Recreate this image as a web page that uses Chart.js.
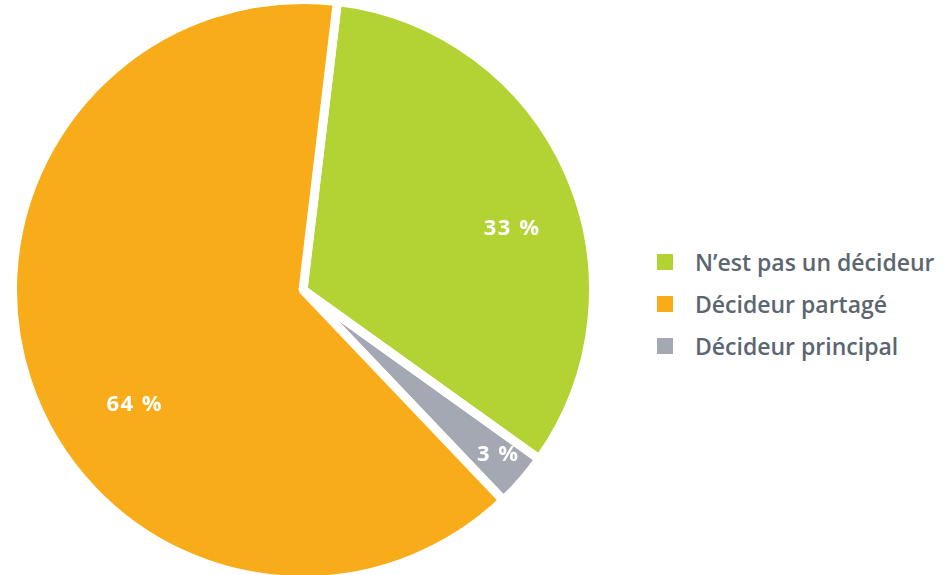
<!DOCTYPE html>
<html lang="fr">
<head>
  <meta charset="UTF-8" />
  <title>Décideur</title>
  <style>
    * { margin: 0; padding: 0; box-sizing: border-box; }
    body {
      width: 950px;
      height: 575px;
      overflow: hidden;
      background: #ffffff;
      font-family: 'Open Sans', 'Lato', sans-serif;
      position: relative;
    }
    .pie-wrap {
      position: absolute;
      left: 0;
      top: 0;
      width: 606px;
      height: 580px;
    }
    .legend {
      position: absolute;
      left: 657px;
      top: 241px;
      list-style: none;
    }
    .legend li {
      display: flex;
      align-items: center;
      height: 42px;
      color: #5b6670;
      font-size: 23px;
      font-weight: 600;
    }
    .legend .box {
      width: 16px;
      height: 16px;
      margin-right: 22px;
    }
  </style>
</head>
<body>
  <div class="pie-wrap">
    <canvas id="chartDecideur"></canvas>
  </div>
  <ul class="legend" id="legend"></ul>

  <script src="https://cdn.jsdelivr.net/npm/chart.js"></script>
  <script>
    // slices in drawing order (clockwise from top)
    const labels = ["N’est pas un décideur", 'Décideur principal', 'Décideur partagé'];
    const values = [33, 3, 64];
    const colors = ['#b3d335', '#a3a8b2', '#f9ac19'];
    const legendOrder = [0, 2, 1];

    // label placement: fraction of radius, angle nudge (deg)
    const labelRadius = [0.75, 0.88, 0.70];
    const labelShift = [7.5, -0.8, -15.8];

    const legend = document.getElementById('legend');
    legendOrder.forEach(i => {
      const li = document.createElement('li');
      li.innerHTML = `<span class="box" style="background:${colors[i]}"></span>${labels[i]}`;
      legend.appendChild(li);
    });

    const pctLabels = {
      id: 'pctLabels',
      afterDatasetsDraw(chart) {
        const { ctx } = chart;
        const meta = chart.getDatasetMeta(0);
        ctx.save();
        ctx.fillStyle = '#ffffff';
        ctx.font = "bold 22px 'Open Sans', Lato, sans-serif";
        ctx.letterSpacing = '1.5px';
        ctx.textAlign = 'center';
        ctx.textBaseline = 'middle';
        meta.data.forEach((arc, i) => {
          const p = arc.getProps(['x', 'y', 'startAngle', 'endAngle', 'outerRadius']);
          const mid = (p.startAngle + p.endAngle) / 2;
          const a = mid + labelShift[i] * Math.PI / 180;
          const r = p.outerRadius * labelRadius[i];
          ctx.fillText(values[i] + ' %', p.x + Math.cos(a) * r, p.y + Math.sin(a) * r);
        });
        ctx.restore();
      }
    };

    new Chart(document.getElementById('chartDecideur'), {
      type: 'pie',
      data: {
        labels,
        datasets: [{
          data: values,
          backgroundColor: colors,
          borderColor: '#ffffff',
          borderWidth: 9
        }]
      },
      options: {
        responsive: true,
        maintainAspectRatio: false,
        animation: false,
        rotation: 6.8,
        radius: 290.5,
        layout: { padding: 0 },
        plugins: {
          legend: { display: false },
          tooltip: { enabled: false }
        }
      },
      plugins: [pctLabels]
    });
  </script>
</body>
</html>
